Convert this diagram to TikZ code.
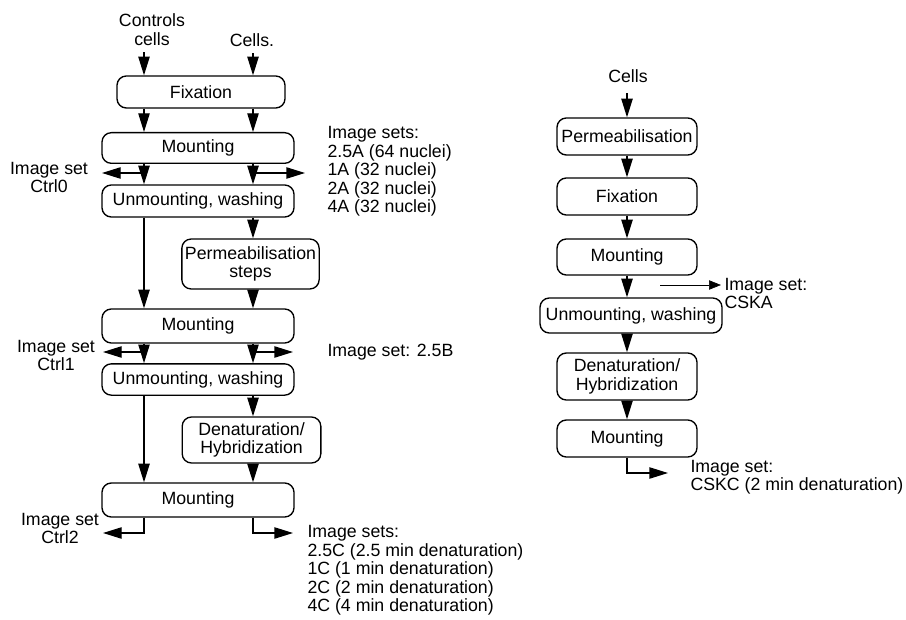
\documentclass[tikz,border=0pt]{standalone}
\usepackage{fontspec}
\setmainfont{Liberation Sans}
\usetikzlibrary{arrows.meta}

\tikzset{every picture/.style={line width=0.75pt}}
\tikzset{
  stepbox/.style={draw, rounded corners=7pt, line width=1pt, inner sep=0pt, align=center},
  flow/.style={line width=1pt, -{Triangle[length=14pt,width=8.5pt]}},
  outflow/.style={line width=1pt, -{Triangle[length=14pt,width=8.5pt]}},
  thinflow/.style={line width=0.5pt, -{Triangle[length=9pt,width=7pt]}}
}

\begin{document}
\begin{tikzpicture}[x=0.75pt,y=0.75pt,yscale=-1,xscale=1,every node/.style={font=\fontsize{13.3}{13.9}\selectfont}]
\useasboundingbox (0,0) rectangle (906,620);

% lanes
\coordinate (laneL) at (144,0);
\coordinate (laneR) at (253,0);
\coordinate (laneC) at (627,0);

%Shape: Rounded Rect [left column]
\draw (201,92) node [stepbox, minimum width=126pt, minimum height=24pt] (fixA) {Fixation};
\draw (198,148) node [stepbox, minimum width=144pt, minimum height=23pt] (mntA) {Mounting};
\draw (198,201) node [stepbox, minimum width=144pt, minimum height=24pt] (unmA) {Unmounting, washing};
\draw (250.5,264) node [stepbox, minimum width=103pt, minimum height=37.5pt] (permA) {Permeabilisation\\steps};
\draw (198,326) node [stepbox, minimum width=144pt, minimum height=25.5pt] (mntB) {Mounting};
\draw (198,379.5) node [stepbox, minimum width=144pt, minimum height=23.5pt] (unmB) {Unmounting, washing};
\draw (251.5,440) node [stepbox, minimum width=104pt, minimum height=34.5pt] (denA) {Denaturation/\\Hybridization};
\draw (198,500) node [stepbox, minimum width=144pt, minimum height=25.5pt] (mntC) {Mounting};

%Shape: Rounded Rect [right column]
\draw (627,136.5) node [stepbox, minimum width=105pt, minimum height=27.75pt] (permB) {Permeabilisation};
\draw (627,196.5) node [stepbox, minimum width=105pt, minimum height=27.75pt] (fixB) {Fixation};
\draw (627,257) node [stepbox, minimum width=105pt, minimum height=27pt] (mntD) {Mounting};
\draw (631,315.5) node [stepbox, minimum width=136.5pt, minimum height=26.25pt] (unmC) {Unmounting, washing};
\draw (627,376.5) node [stepbox, minimum width=105pt, minimum height=35.25pt] (denB) {Denaturation/\\Hybridization};
\draw (627,438.5) node [stepbox, minimum width=105pt, minimum height=27.75pt] (mntE) {Mounting};

% Text Node
\draw (152,12.5) node [anchor=north][inner sep=0.75pt] [align=center] (ctl) {Controls\\cells};
% Text Node
\draw (252,40) node [inner sep=0.75pt] (cellA) {Cells.};
% Text Node
\draw (628,76) node [inner sep=0.75pt] (cellB) {Cells};
% Text Node
\draw (49,160.5) node [anchor=north][inner sep=0.75pt] [align=center] (ctrl0) {Image set\\Ctrl0};
% Text Node
\draw (56,338.5) node [anchor=north][inner sep=0.75pt] [align=center] (ctrl1) {Image set\\Ctrl1};
% Text Node
\draw (60,511.5) node [anchor=north][inner sep=0.75pt] [align=center] (ctrl2) {Image set\\Ctrl2};
% Text Node
\draw (326,125) node [anchor=north west][inner sep=0.75pt] [align=left] (setA) {Image sets:\\2.5A (64 nuclei)\\1A (32 nuclei)\\2A (32 nuclei)\\4A (32 nuclei)};
% Text Node
\draw (326,352) node [anchor=west][inner sep=0.75pt] (setB) {Image set: 2.5B};
% Text Node
\draw (306,524) node [anchor=north west][inner sep=0.75pt] [align=left] (setC) {Image sets:\\2.5C (2.5 min denaturation)\\1C (1 min denaturation)\\2C (2 min denaturation)\\4C (4 min denaturation)};
% Text Node
\draw (723,276.5) node [anchor=north west][inner sep=0.75pt] [align=left] (setK) {Image set:\\CSKA};
% Text Node
\draw (689,458.5) node [anchor=north west][inner sep=0.75pt] [align=left] (setKC) {Image set:\\CSKC (2 min denaturation)};

%Straight Lines [left column]
\draw [flow, shorten <=4pt] (laneL |- ctl.south) -- (laneL |- fixA.north);
\draw [flow, shorten <=4pt] (laneR |- cellA.south) -- (laneR |- fixA.north);
\draw [flow] (laneL |- fixA.south) -- (laneL |- mntA.north);
\draw [flow] (laneR |- fixA.south) -- (laneR |- mntA.north);
\draw [flow] (laneL |- mntA.south) -- (laneL |- unmA.north);
\draw [flow] (laneR |- mntA.south) -- (laneR |- unmA.north);
\draw [flow] (laneL |- unmA.south) -- (laneL |- mntB.north);
\draw [flow] (laneR |- unmA.south) -- (laneR |- permA.north);
\draw [flow] (laneR |- permA.south) -- (laneR |- mntB.north);
\draw [flow] (laneL |- mntB.south) -- (laneL |- unmB.north);
\draw [flow] (laneR |- mntB.south) -- (laneR |- unmB.north);
\draw [flow] (laneL |- unmB.south) -- (laneL |- mntC.north);
\draw [flow] (laneR |- unmB.south) -- (laneR |- denA.north);
\draw [flow] (laneR |- denA.south) -- (laneR |- mntC.north);

%Straight Lines [image sets, left column]
\coordinate (outA1) at (102,173);
\coordinate (outA2) at (305,173);
\draw [outflow] (laneL |- outA1) -- (outA1);
\draw [outflow] (laneR |- outA2) -- (outA2);
\coordinate (outB1) at (103,352);
\coordinate (outB2) at (293,352);
\draw [outflow] (laneL |- outB1) -- (outB1);
\draw [outflow] (laneR |- outB2) -- (outB2);
\coordinate (outC1) at (103,533);
\coordinate (outC2) at (293,533);
\draw [outflow] (laneL |- mntC.south) |- (outC1);
\draw [outflow] (laneR |- mntC.south) |- (outC2);

%Straight Lines [right column]
\draw [flow, shorten <=7pt] (laneC |- cellB.south) -- (laneC |- permB.north);
\draw [flow] (laneC |- permB.south) -- (laneC |- fixB.north);
\draw [flow] (laneC |- fixB.south) -- (laneC |- mntD.north);
\draw [flow] (laneC |- mntD.south) -- (laneC |- unmC.north);
\draw [flow] (laneC |- unmC.south) -- (laneC |- denB.north);
\draw [flow] (laneC |- denB.south) -- (laneC |- mntE.north);
\coordinate (outK1) at (660,285);
\coordinate (outK2) at (721,285);
\draw [thinflow] (outK1) -- (outK2);
\coordinate (outKC) at (668,473);
\draw [outflow] (laneC |- mntE.south) |- (outKC);

\end{tikzpicture}
\end{document}
